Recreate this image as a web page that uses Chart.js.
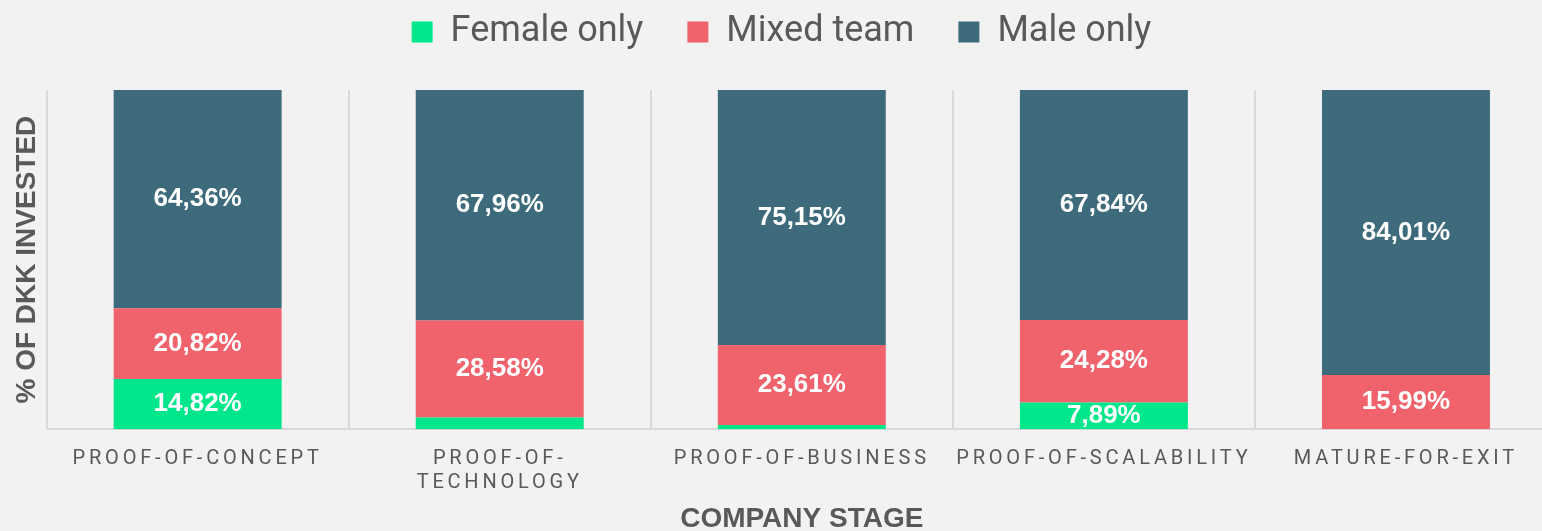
<!DOCTYPE html>
<html lang="en">
<head>
  <meta charset="UTF-8">
  <title>% of DKK invested by company stage</title>
  <script src="https://cdn.jsdelivr.net/npm/chart.js"></script>
  <style>
    html, body {
      margin: 0;
      padding: 0;
      background: #f2f2f2;
      overflow: hidden;
    }

    #wrap {
      width: 1572px;
      height: 531px;
      position: relative;
    }
  </style>
</head>
<body>
  <div id="wrap"><canvas id="stageChart"></canvas></div>

  <script>
    const stages = ['PROOF-OF-CONCEPT', ['PROOF-OF-', 'TECHNOLOGY'], 'PROOF-OF-BUSINESS', 'PROOF-OF-SCALABILITY', 'MATURE-FOR-EXIT'];
    const femaleOnly = [14.82, 3.46, 1.24, 7.89, 0];
    const mixedTeam = [20.82, 28.58, 23.61, 24.28, 15.99];
    const maleOnly = [64.36, 67.96, 75.15, 67.84, 84.01];
    const seriesNames = ['Female only', 'Mixed team', 'Male only'];
    const seriesColors = ['#00e68a', '#f0626c', '#3e6b7b'];

    const GREY = '#595959';
    const LINE = '#d9d9d9';

    // white value labels in the middle of the big segments
    const barLabels = {
      id: 'barLabels',
      afterDatasetsDraw(chart) {
        const ctx = chart.ctx;
        ctx.save();
        ctx.font = 'bold 26px "Liberation Sans", Arial, sans-serif';
        ctx.fillStyle = '#fff';
        ctx.textAlign = 'center';
        ctx.textBaseline = 'middle';
        chart.data.datasets.forEach((ds, i) => {
          chart.getDatasetMeta(i).data.forEach((bar, j) => {
            const v = ds.data[j];
            if (v < 5) return;
            ctx.fillText(v.toFixed(2).replace('.', ',') + '%', bar.x, (bar.y + bar.base) / 2);
          });
        });
        ctx.restore();
      }
    };

    // legend sits higher than chart.js puts it, x ticks are letter-spaced
    const layoutTweaks = {
      id: 'layoutTweaks',
      afterLayout(chart) {
        chart.legend.top -= 30;
        chart.legend.bottom -= 30;
        const x = chart.scales.x;
        if (!x._spaced) {
          const orig = x.drawLabels;
          x.drawLabels = function (area) {
            const c = this.ctx;
            c.save();
            c.letterSpacing = '3.8px';
            orig.call(this, area);
            c.restore();
          };
          x._spaced = true;
        }
      }
    };

    new Chart(document.getElementById('stageChart'), {
      type: 'bar',
      data: {
        labels: stages,
        datasets: [femaleOnly, mixedTeam, maleOnly].map((d, i) => ({
          label: seriesNames[i],
          data: d,
          backgroundColor: seriesColors[i],
          borderWidth: 0,
          categoryPercentage: 1,
          barPercentage: 0.556
        }))
      },
      options: {
        responsive: true,
        maintainAspectRatio: false,
        animation: false,
        devicePixelRatio: 1,
        layout: { padding: { left: 6, right: 15, top: 0, bottom: 0 } },
        plugins: {
          legend: {
            position: 'top',
            labels: {
              boxWidth: 21,
              boxHeight: 21,
              padding: 44,
              color: GREY,
              font: { family: 'Roboto', size: 36 }
            }
          },
          tooltip: { enabled: false }
        },
        scales: {
          x: {
            stacked: true,
            grid: { color: LINE, lineWidth: 2, drawTicks: false, offset: true },
            border: { color: LINE, width: 2 },
            ticks: {
              color: GREY,
              padding: 18,
              autoSkip: false,
              maxRotation: 0,
              minRotation: 0,
              font: { family: 'Roboto', size: 20, lineHeight: 1.2 }
            },
            title: {
              display: true,
              text: 'COMPANY STAGE',
              color: GREY,
              padding: { top: -9, bottom: -4 },
              font: { family: '"Liberation Sans", Arial, sans-serif', size: 28, weight: 'bold', lineHeight: 1.1 }
            }
          },
          y: {
            stacked: true,
            min: 0,
            max: 100,
            grid: { display: false, drawTicks: false },
            border: { display: false },
            ticks: { display: false },
            title: {
              display: true,
              text: '% OF DKK INVESTED',
              color: GREY,
              padding: { top: 4, bottom: 3 },
              font: { family: '"Liberation Sans", Arial, sans-serif', size: 28, weight: 'bold', lineHeight: 1.2 }
            }
          }
        }
      },
      plugins: [barLabels, layoutTweaks]
    });
  </script>
</body>
</html>
